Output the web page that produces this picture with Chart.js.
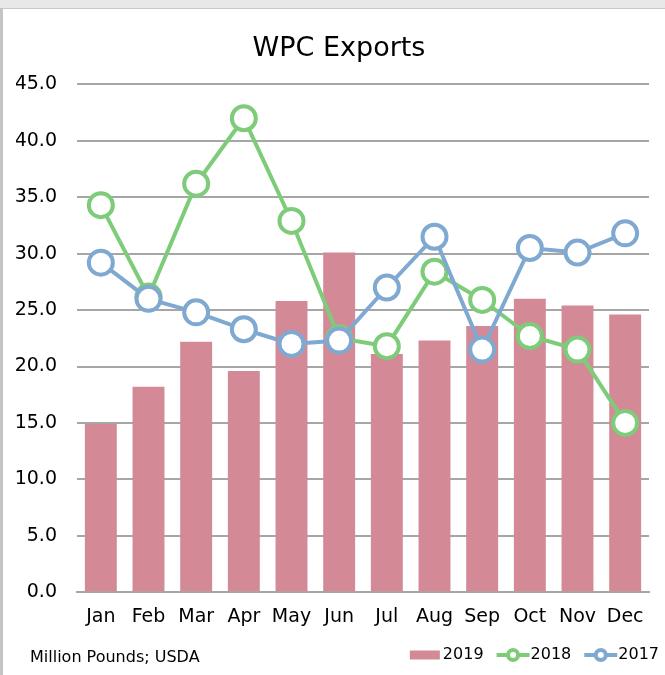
<!DOCTYPE html>
<html>
<head>
<meta charset="utf-8">
<script src="https://cdn.jsdelivr.net/npm/chart.js@4"></script>
<style>
body{margin:0;background:#e8e8e8;}
#wrap{position:absolute;left:0;top:8px;width:662px;height:667px;background:#fff;border-left:3px solid #c4c4c4;border-top:1px solid #c8c8c8;}
#note{position:absolute;left:27px;top:638px;font-family:"DejaVu Sans",sans-serif;font-size:16px;color:#000;}
</style>
</head>
<body>
<div id="wrap">
<canvas id="myChart" width="662" height="666"></canvas>
<div id="note">Million Pounds; USDA</div>
</div>
<script>
var months=['Jan','Feb','Mar','Apr','May','Jun','Jul','Aug','Sep','Oct','Nov','Dec'];
var exp2019=[14.9,18.2,22.2,19.6,25.8,30.1,21.1,22.3,23.6,26.0,25.4,24.6];
var exp2018=[34.3,26.2,36.2,42.0,32.9,22.5,21.8,28.4,25.9,22.7,21.5,15.0];
var exp2017=[29.2,26.0,24.8,23.3,22.0,22.3,27.0,31.5,21.5,30.5,30.1,31.8];

var barColor='#d38a96';
var greenColor='#7ecc7a';
var blueColor='#7fa9d1';

// legend drawn by hand, right aligned at the bottom
var legendPlugin={
  id:'myLegend',
  afterDraw:function(chart){
    var ctx=chart.ctx;
    var y=646;
    ctx.save();
    ctx.font='16px "DejaVu Sans"';
    ctx.textBaseline='middle';
    ctx.fillStyle='#000';
    var x=chart.width-6;
    var items=[{t:'2017',c:blueColor,line:true},{t:'2018',c:greenColor,line:true},{t:'2019',c:barColor,line:false}];
    items.forEach(function(it){
      var w=ctx.measureText(it.t).width;
      x-=w;
      ctx.fillStyle='#000';
      ctx.fillText(it.t,x,y);
      if(it.line){
        x-=34;
        ctx.strokeStyle=it.c;ctx.lineWidth=4;
        ctx.beginPath();ctx.moveTo(x,y);ctx.lineTo(x+33,y);ctx.stroke();
        ctx.fillStyle='#fff';
        ctx.beginPath();ctx.arc(x+16.5,y,5,0,Math.PI*2);ctx.fill();ctx.stroke();
        x-=13;
      }else{
        x-=33;
        ctx.fillStyle=it.c;
        ctx.fillRect(x,y-4.5,30,9);
      }
    });
    ctx.restore();
  }
};

var chartContainer=document.getElementById('myChart');
var myChart=new Chart(chartContainer,{
  type:'bar',
  data:{
    labels:months,
    datasets:[
      {
        type:'line',
        label:'2017',
        data:exp2017,
        borderColor:blueColor,
        backgroundColor:'#fff',
        borderWidth:4,
        pointRadius:12,
        pointBorderWidth:4,
        pointBackgroundColor:'#fff',
        order:1
      },
      {
        type:'line',
        label:'2018',
        data:exp2018,
        borderColor:greenColor,
        backgroundColor:'#fff',
        borderWidth:4,
        pointRadius:12,
        pointBorderWidth:4,
        pointBackgroundColor:'#fff',
        order:2
      },
      {
        label:'2019',
        data:exp2019,
        backgroundColor:barColor,
        categoryPercentage:1,
        barPercentage:0.67,
        order:3
      }
    ]
  },
  plugins:[legendPlugin],
  options:{
    responsive:false,
    animation:false,
    layout:{padding:{left:13,right:3,top:8,bottom:42}},
    plugins:{
      title:{display:true,text:'WPC Exports',color:'#000',font:{family:'DejaVu Sans',size:27,weight:'normal'},padding:{top:16,bottom:19}},
      legend:{display:false},
      tooltip:{enabled:false}
    },
    scales:{
      x:{
        grid:{display:false},
        border:{color:'#a6a6a6',width:2},
        ticks:{color:'#000',font:{family:'DejaVu Sans',size:19},padding:5}
      },
      y:{
        min:0,max:45,
        afterFit:function(s){s.width=61;},
        grid:{color:'#a6a6a6',lineWidth:2,drawTicks:false},
        border:{display:false},
        ticks:{stepSize:5,color:'#000',font:{family:'DejaVu Sans',size:19},padding:20,
          callback:function(v){return v.toFixed(1);}}
      }
    }
  }
});
</script>
</body>
</html>
